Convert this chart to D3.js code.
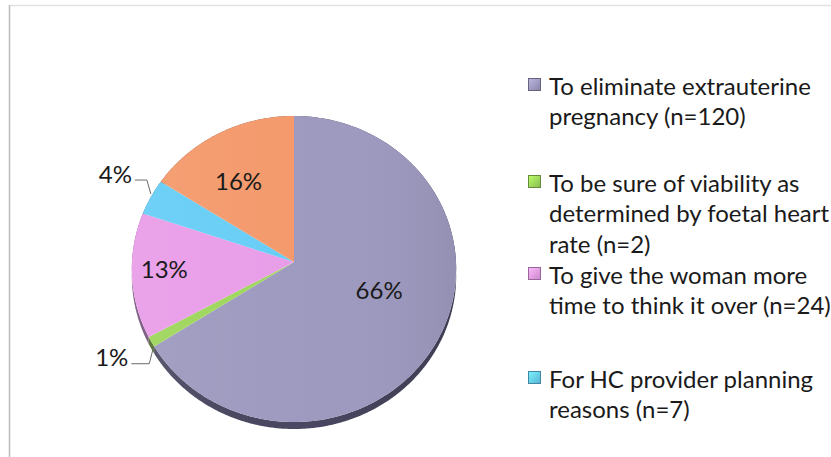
<!DOCTYPE html>
<html>
<head>
<meta charset="utf-8">
<script src="https://cdn.jsdelivr.net/npm/d3@7"></script>
<style>
  html, body { margin: 0; padding: 0; background: #ffffff; }
  svg { display: block; }
  text { font-family: Lato, "Noto Sans", sans-serif; }
</style>
</head>
<body>
<svg id="chart" width="831" height="457"></svg>
<script>
// Reasons given (counts) and how they are shown
const categories = [
  "To eliminate extrauterine pregnancy (n=120)",
  "To be sure of viability as determined by foetal heart rate (n=2)",
  "To give the woman more time to think it over (n=24)",
  "For HC provider planning reasons (n=7)",
  "Other reasons (n=29)"
];
const counts = [120, 2, 24, 7, 29];
const percentLabels = ["66%", "1%", "13%", "4%", "16%"];
const legendLines = [
  ["To eliminate extrauterine", "pregnancy (n=120)"],
  ["To be sure of viability as", "determined by foetal heart", "rate (n=2)"],
  ["To give the woman more", "time to think it over (n=24)"],
  ["For HC provider planning", "reasons (n=7)"]
];
const colors = ["#9d99bf", "#9dd65a", "#e99ce8", "#66cdf6", "#f4996b"];
const sideColors = ["#4a4862", "#4f6b2d", "#74507a", "#356a80", "#7a4d36"];

const svg = d3.select("#chart");

// frame lines
svg.append("line").attr("x1", 9).attr("y1", 5.5).attr("x2", 831).attr("y2", 5.5)
  .attr("stroke", "#e2e2e2").attr("stroke-width", 1.5);
svg.append("line").attr("x1", 9.5).attr("y1", 5).attr("x2", 9.5).attr("y2", 457)
  .attr("stroke", "#bcbcbc").attr("stroke-width", 1.5);

// tilted pie: a circle seen slightly from above in perspective
const cx = 294, cy = 262, A = 162, B = 152.7, k = 0.0457, depth = 7;
function proj(theta, r = 1) {
  const u = r * Math.sin(theta), v = -r * Math.cos(theta);
  const w = 1 - k * v;
  return [cx + A * u / w, cy + B * v / w];
}
function arcPoints(a0, a1) {
  const n = Math.max(2, Math.ceil((a1 - a0) / (Math.PI / 360)));
  return d3.range(n + 1).map(i => proj(a0 + (a1 - a0) * i / n));
}

const pie = d3.pie().sort(null).value(d => d).startAngle(0).endAngle(2 * Math.PI);
const arcs = pie(counts);
const line = d3.line();

const defs = svg.append("defs");
const shade = defs.append("linearGradient").attr("id", "shade")
  .attr("gradientUnits", "userSpaceOnUse")
  .attr("x1", cx - A).attr("y1", 0).attr("x2", cx + A).attr("y2", 0);
shade.append("stop").attr("offset", 0).attr("stop-color", "#ffffff").attr("stop-opacity", 0.07);
shade.append("stop").attr("offset", 0.6).attr("stop-color", "#ffffff").attr("stop-opacity", 0);
shade.append("stop").attr("offset", 1).attr("stop-color", "#000000").attr("stop-opacity", 0.06);

const sideShade = defs.append("linearGradient").attr("id", "sideShade")
  .attr("gradientUnits", "userSpaceOnUse")
  .attr("x1", cx - A).attr("y1", 0).attr("x2", cx + A).attr("y2", 0);
sideShade.append("stop").attr("offset", 0).attr("stop-color", "#ffffff").attr("stop-opacity", 0.12);
sideShade.append("stop").attr("offset", 0.5).attr("stop-color", "#000000").attr("stop-opacity", 0);
sideShade.append("stop").attr("offset", 1).attr("stop-color", "#000000").attr("stop-opacity", 0.15);

// side walls
const g = svg.append("g");
arcs.forEach((d, i) => {
  const top = arcPoints(d.startAngle, d.endAngle);
  const bottom = top.map(p => [p[0], p[1] + depth]).reverse();
  const pts = top.concat(bottom);
  g.append("path").attr("d", line(pts) + "Z").attr("fill", sideColors[i]);
  g.append("path").attr("d", line(pts) + "Z").attr("fill", "url(#sideShade)");
});

// top faces
arcs.forEach((d, i) => {
  const pts = [[cx, cy]].concat(arcPoints(d.startAngle, d.endAngle));
  g.append("path").attr("d", line(pts) + "Z").attr("fill", colors[i]);
});
// soft lighting across the top
g.append("path").attr("d", line(arcPoints(0, 2 * Math.PI)) + "Z").attr("fill", "url(#shade)");

// percentage labels: inside ones sit at (angle shift in degrees, radius fraction)
// from the slice middle; outside ones get an elbow leader line
const labelFont = 24;
const labelPlacement = [
  { inside: true, shift: -10, r: 0.55 },
  { inside: false, lead: [2, 6, -4, 16, -18], up: false },
  { inside: true, shift: 2, r: 0.8 },
  { inside: false, lead: [0, -3, -4, -14, -12], up: true },
  { inside: true, shift: -4, r: 0.65 }
];
arcs.forEach((d, i) => {
  const mid = (d.startAngle + d.endAngle) / 2;
  const lp = labelPlacement[i];
  if (lp.inside) {
    const p = proj(mid + lp.shift * Math.PI / 180, lp.r);
    g.append("text").attr("x", p[0]).attr("y", p[1])
      .attr("text-anchor", "middle").attr("dominant-baseline", "central")
      .attr("font-size", labelFont).attr("fill", "#1a1a1a").text(percentLabels[i]);
  } else {
    const edge = proj(mid, 1.0);
    const [sx, sy, dx, dy, hx] = lp.lead;
    const p0 = [edge[0] + sx, edge[1] + sy];
    const p1 = [p0[0] + dx, p0[1] + dy];
    const p2 = [p1[0] + hx, p1[1]];
    g.append("path").attr("d", line([p0, p1, p2]))
      .attr("fill", "none").attr("stroke", "#6b6b6b").attr("stroke-width", 1);
    g.append("text").attr("x", p2[0] - 3).attr("y", p2[1] - 7)
      .attr("text-anchor", "end").attr("dominant-baseline", "central")
      .attr("font-size", labelFont).attr("fill", "#1a1a1a").text(percentLabels[i]);
  }
});

// legend
const legendX = 528, legendFont = 24, lineGap = 30.5;
const entryTops = [85, 182, 274, 378];
legendLines.forEach((lines, i) => {
  const y0 = entryTops[i];
  const grad = defs.append("linearGradient").attr("id", "sw" + i)
    .attr("x1", 0).attr("y1", 0).attr("x2", 1).attr("y2", 1);
  grad.append("stop").attr("offset", 0).attr("stop-color", d3.color(colors[i]).brighter(0.5));
  grad.append("stop").attr("offset", 1).attr("stop-color", d3.color(colors[i]).darker(0.4));
  svg.append("rect").attr("x", legendX + 0.5).attr("y", y0 - 6.5)
    .attr("width", 12).attr("height", 12)
    .attr("fill", "url(#sw" + i + ")")
    .attr("stroke", d3.color(colors[i]).darker(1.2)).attr("stroke-width", 1);
  lines.forEach((t, j) => {
    svg.append("text").attr("x", legendX + 21).attr("y", y0 + j * lineGap)
      .attr("dominant-baseline", "central")
      .attr("font-size", legendFont).attr("fill", "#1a1a1a").text(t);
  });
});
</script>
</body>
</html>
